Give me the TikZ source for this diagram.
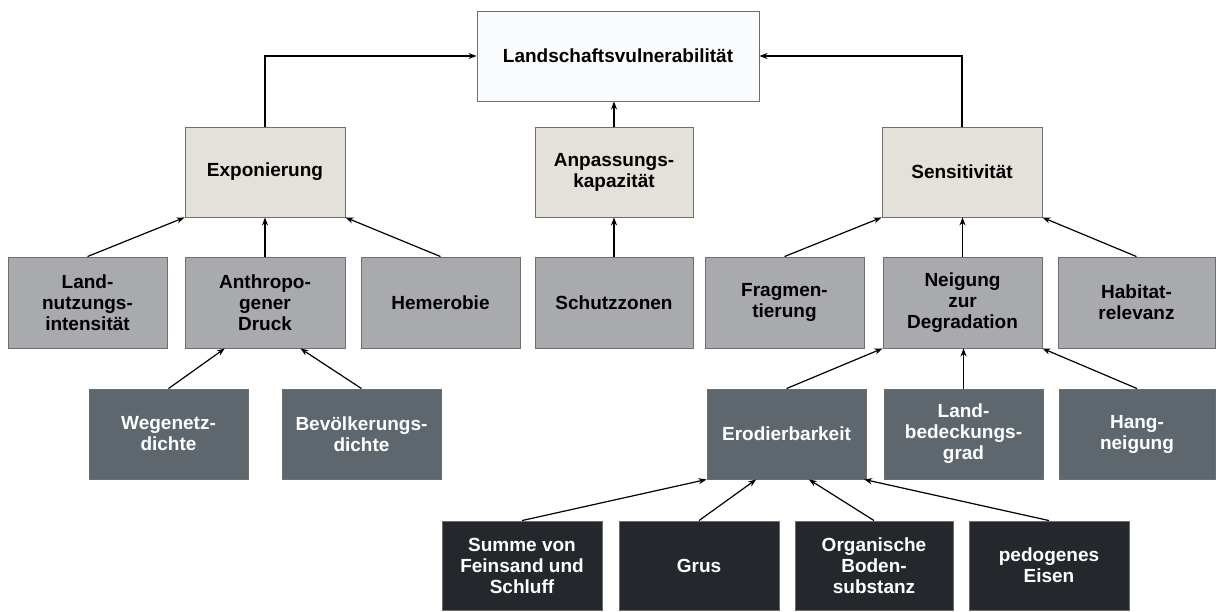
\documentclass[tikz,border=0pt]{standalone}
\usepackage{fontspec}
\setmainfont{Liberation Sans}
\usetikzlibrary{arrows.meta,calc}

\definecolor{topfill}{HTML}{F9FBFC}
\definecolor{lvlone}{HTML}{E3E1D9}
\definecolor{lvltwo}{HTML}{A8AAAD}
\definecolor{lvlthree}{HTML}{5E676D}
\definecolor{lvlfour}{HTML}{24282C}
\definecolor{edgegray}{HTML}{6E6E6E}

\tikzset{
  box/.style={draw=edgegray, line width=0.9pt, inner sep=0pt, align=center,
    minimum height=90pt,
    font=\bfseries\fontsize{19}{21}\selectfont},
  toplevel/.style={box, fill=topfill, text=black},
  levelone/.style={box, fill=lvlone, text=black},
  leveltwo/.style={box, fill=lvltwo, text=black},
  levelthree/.style={box, fill=lvlthree, text=white},
  levelfour/.style={box, fill=lvlfour, text=white},
  link/.style={line width=1.2pt, draw=black,
    -{Stealth[length=8pt,width=6pt]}}
}

\begin{document}
\begin{tikzpicture}[x=1pt,y=-1pt]
\useasboundingbox (0,0) rectangle (1216,611);

% goal
\node[toplevel, minimum width=282pt] (vuln) at (618,56) {Landschaftsvulnerabilität};

% components
\node[levelone, minimum width=160pt] (expo) at (265,172) {Exponierung};
\node[levelone, minimum width=158pt] (anpass) at (614,172) {Anpassungs-\\kapazität};
\node[levelone, minimum width=160pt] (sens) at (962,172) {Sensitivität};

% indicators
\node[leveltwo, minimum width=159pt, minimum height=91pt] (land) at (87.5,302.5) {Land-\\nutzungs-\\intensität};
\node[leveltwo, minimum width=160pt, minimum height=91pt] (anthro) at (265,302.5) {Anthropo-\\gener\\Druck};
\node[leveltwo, minimum width=159pt, minimum height=91pt] (hemer) at (440.5,302.5) {Hemerobie};
\node[leveltwo, minimum width=158pt, minimum height=91pt] (schutz) at (614,302.5) {Schutzzonen};
\node[leveltwo, minimum width=159pt, minimum height=91pt] (fragm) at (784.5,302.5) {Fragmen-\\tierung};
\node[leveltwo, minimum width=159pt, minimum height=91pt] (neig) at (962.5,302.5) {Neigung\\zur\\Degradation};
\node[leveltwo, minimum width=157pt, minimum height=91pt] (habit) at (1136.5,302.5) {Habitat-\\relevanz};

% sub-indicators
\node[levelthree, minimum width=159pt] (wege) at (168.5,434) {Wegenetz-\\dichte};
\node[levelthree, minimum width=159pt] (bevoe) at (361.5,434) {Bevölkerungs-\\dichte};
\node[levelthree, minimum width=159pt] (erod) at (786.5,434) {Erodierbarkeit};
\node[levelthree, minimum width=159pt] (landbed) at (963.5,434) {Land-\\bedeckungs-\\grad};
\node[levelthree, minimum width=156pt] (hang) at (1137,434) {Hang-\\neigung};

% soil parameters
\node[levelfour, minimum width=160pt, minimum height=89pt] (summe) at (522,565.5) {Summe von\\Feinsand und\\Schluff};
\node[levelfour, minimum width=160pt, minimum height=89pt] (grus) at (699,565.5) {Grus};
\node[levelfour, minimum width=158pt, minimum height=89pt] (organ) at (874,565.5) {Organische\\Boden-\\substanz};
\node[levelfour, minimum width=160pt, minimum height=89pt] (pedo) at (1049,565.5) {pedogenes\\Eisen};

% links to the goal
\draw[link] (expo.north) |- (vuln.west);
\draw[link] (sens.north) |- (vuln.east);
\draw[link] (anpass.north) -- (anpass.north |- vuln.south);

% links to the components
\draw[link] (land.north) -- (expo.south west);
\draw[link] (anthro.north) -- (expo.south);
\draw[link] (hemer.north) -- (expo.south east);
\draw[link] (schutz.north) -- (anpass.south);
\draw[link] (fragm.north) -- (sens.south west);
\draw[link] (neig.north) -- (neig.north |- sens.south);
\draw[link] (habit.north) -- (sens.south east);

% links to the indicators
\draw[link] (wege.north) -- ($(anthro.south west)!0.25!(anthro.south east)$);
\draw[link] (bevoe.north) -- ($(anthro.south west)!0.72!(anthro.south east)$);
\draw[link] (erod.north) -- (neig.south west);
\draw[link] (landbed.north) -- (landbed.north |- neig.south);
\draw[link] (hang.north) -- (neig.south east);

% links to erodibility
\draw[link] (summe.north) -- (erod.south west);
\draw[link] (grus.north) -- ($(erod.south west)!0.31!(erod.south east)$);
\draw[link] (organ.north) -- ($(erod.south west)!0.64!(erod.south east)$);
\draw[link] (pedo.north) -- ($(erod.south west)!0.985!(erod.south east)$);
\end{tikzpicture}
\end{document}
